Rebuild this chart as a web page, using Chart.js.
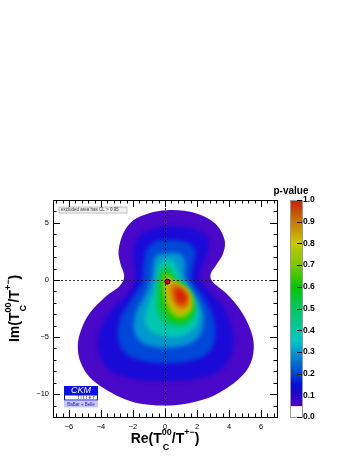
<!DOCTYPE html>
<html>
<head>
<meta charset="utf-8">
<script src="https://cdn.jsdelivr.net/npm/chart.js@4.4.1/dist/chart.umd.min.js"></script>
<style>
  html, body { margin: 0; padding: 0; background: #fff; }
  canvas { display: block; }
</style>
</head>
<body>
<canvas id="myChart" width="354" height="458"></canvas>
<script>
// tick labels
const xTicks = [-6, -4, -2, 0, 2, 4, 6];
const yTicks = [-10, -5, 0, 5];
const pTicks = [0, 0.1, 0.2, 0.3, 0.4, 0.5, 0.6, 0.7, 0.8, 0.9, 1.0];

// best fit point (Re, Im)
const bestFit = [{ x: 0.15, y: -0.15 }];

// p-value contours, [Re, Im]
const pLevels = [0.05, 0.1, 0.2, 0.3, 0.4, 0.5, 0.6, 0.7, 0.8, 0.9, 0.95];
const contour005 = [[0.1,6.1],[1.2,6.05],[2.2,5.7],[3.0,5.1],[3.45,4.4],[3.75,3.3],[3.6,2.2],[3.2,1.3],[2.85,0.5],[3.0,-0.2],[3.85,-1.2],[4.7,-2.6],[5.3,-4.2],[5.55,-5.7],[5.35,-7.3],[4.6,-8.7],[3.1,-10.1],[1.5,-10.8],[0,-11.0],[-1.5,-10.85],[-2.9,-10.2],[-4.5,-8.8],[-5.25,-7.3],[-5.45,-5.8],[-5.25,-4.4],[-4.7,-2.9],[-3.7,-1.45],[-2.85,-0.55],[-2.55,0.3],[-2.8,1.5],[-2.9,2.6],[-2.6,4.1],[-2.0,5.2],[-1.0,5.85]];
const contour010 = [[0.1,4.66],[1.67,4.52],[2.6,3.79],[2.71,2.62],[2.29,1.17],[2.19,0],[2.92,-1.17],[3.75,-2.62],[4.27,-4.66],[4.17,-6.41],[3.54,-7.8],[2.29,-8.6],[0.1,-8.85],[-2.08,-8.65],[-3.54,-7.8],[-4.17,-6.12],[-4.06,-4.37],[-3.33,-2.62],[-2.29,-1.17],[-1.88,0.29],[-1.98,1.75],[-1.88,3.2],[-1.25,4.22]];
const contour020 = [[0.1,3.5],[1.25,3.35],[1.88,2.62],[1.77,1.31],[1.67,0],[2.4,-1.46],[3.0,-3.2],[3.15,-5.0],[2.7,-6.4],[1.6,-7.1],[0.1,-7.3],[-1.4,-7.1],[-2.5,-6.4],[-2.95,-5.0],[-2.8,-3.4],[-2.19,-1.9],[-1.46,-0.29],[-1.35,1.17],[-1.15,2.62],[-0.63,3.35]];
const contour030 = [[0,2.33],[0.83,2.33],[1.25,1.6],[1.25,0.29],[1.85,-1.17],[2.35,-2.8],[2.35,-4.3],[1.8,-5.4],[0.7,-5.9],[-0.7,-5.85],[-1.6,-5.3],[-1.95,-4.2],[-1.8,-2.8],[-1.2,-1.17],[-0.83,0.29],[-0.73,1.46],[-0.52,2.19]];
const contour040 = [[-0.1,1.75],[0.52,1.6],[0.83,0.73],[1.15,-0.29],[1.85,-1.7],[2.1,-3.1],[1.8,-4.3],[1.0,-4.95],[0,-4.95],[-0.9,-4.5],[-1.25,-3.6],[-1.1,-2.4],[-0.8,-1.3],[-0.52,0],[-0.46,1.17]];
const contour050 = [[-0.1,1.17],[0.31,1.17],[0.63,0.29],[1.15,-0.5],[1.7,-1.6],[1.9,-2.8],[1.6,-3.8],[0.85,-4.15],[0.05,-3.9],[-0.45,-3.2],[-0.6,-2.0],[-0.52,-0.73],[-0.38,0.44]];
const contour060 = [[-0.04,0.82],[0.25,0.58],[0.63,-0.1],[1.3,-0.65],[1.7,-1.65],[1.75,-2.8],[1.35,-3.55],[0.7,-3.7],[0.1,-3.2],[-0.25,-2.2],[-0.3,-0.87],[-0.25,0.15]];
const contour070 = [[0,0.5],[0.45,0.05],[1.0,-0.4],[1.6,-1.25],[1.7,-2.35],[1.35,-3.15],[0.75,-3.3],[0.25,-2.7],[0,-1.6],[-0.12,-0.5]];
const contour080 = [[0.15,0.1],[0.8,-0.35],[1.4,-0.95],[1.65,-1.9],[1.45,-2.75],[0.85,-2.95],[0.35,-2.3],[0.1,-1.2]];
const contour090 = [[0.45,-0.35],[1.1,-0.7],[1.5,-1.45],[1.4,-2.3],[0.9,-2.5],[0.5,-1.85],[0.35,-1.0]];
const contour095 = [[0.7,-0.75],[1.2,-1.05],[1.35,-1.7],[1.05,-2.1],[0.7,-1.7]];

const contours = [contour005, contour010, contour020, contour030, contour040, contour050,
                  contour060, contour070, contour080, contour090, contour095];
// colour of the area inside each contour
const bandColors = ['#4a08c8', '#1a0ad8', '#0048d8', '#0098d0', '#00c8b0', '#00c864',
                    '#14c800', '#90c800', '#d0b800', '#d86800', '#d82000'];
// palette of the colour bar
const paletteStops = [[0.05,'#5000c8'],[0.1,'#2800d0'],[0.15,'#0010d8'],[0.2,'#0048d0'],[0.3,'#0098d0'],
                      [0.35,'#00c8c8'],[0.4,'#00c8a0'],[0.5,'#00c864'],[0.6,'#00c800'],[0.7,'#78c800'],
                      [0.8,'#c8c800'],[0.85,'#c8a000'],[0.9,'#c87800'],[1.0,'#c81e00']];

const FONT = '"Liberation Sans", Arial, Helvetica, sans-serif';
Chart.defaults.font.family = FONT;
Chart.defaults.color = '#000';

const minus = v => String(v).replace('-', '\u2212');

// closed smooth curve (Catmull-Rom) through pixel points
function smoothPath(ctx, pts) {
    const n = pts.length;
    ctx.beginPath();
    ctx.moveTo(pts[0][0], pts[0][1]);
    for (let i = 0; i < n; i++) {
        const p0 = pts[(i - 1 + n) % n], p1 = pts[i], p2 = pts[(i + 1) % n], p3 = pts[(i + 2) % n];
        ctx.bezierCurveTo(p1[0] + (p2[0] - p0[0]) / 6, p1[1] + (p2[1] - p0[1]) / 6,
                          p2[0] - (p3[0] - p1[0]) / 6, p2[1] - (p3[1] - p1[1]) / 6, p2[0], p2[1]);
    }
    ctx.closePath();
}

// "Re(T^00_C/T^+-)" style title, centred on 0,0 baseline
function drawRatioTitle(ctx, prefix) {
    const big = 'bold 14px ' + FONT, small = 'bold 9px ' + FONT;
    const parts = [
        { t: prefix + '(T', f: big, dy: 0 },
        { t: '00', f: small, dy: -8, sub: 'C', subDy: 7 },
        { t: '/T', f: big, dy: 0 },
        { t: '+\u2212', f: small, dy: -8 },
        { t: ')', f: big, dy: 0 }
    ];
    let total = 0;
    parts.forEach(p => {
        ctx.font = p.f;
        p.w = ctx.measureText(p.t).width;
        total += p.w;
    });
    let x = -total / 2;
    ctx.textAlign = 'left';
    ctx.textBaseline = 'alphabetic';
    ctx.fillStyle = '#000';
    parts.forEach(p => {
        ctx.font = p.f;
        ctx.fillText(p.t, x, p.dy);
        if (p.sub) ctx.fillText(p.sub, x + 1, p.subDy);
        x += p.w;
    });
}

const rootPlugin = {
    id: 'rootStyle',
    beforeDatasetsDraw(chart) {
        const { ctx, chartArea: a, scales: { x, y } } = chart;
        const toPx = p => [x.getPixelForValue(p[0]), y.getPixelForValue(p[1])];
        ctx.save();
        ctx.beginPath();
        ctx.rect(a.left, a.top, a.right - a.left, a.bottom - a.top);
        ctx.clip();
        // outermost contour with a sharp edge, inner ones softened
        smoothPath(ctx, contours[0].map(toPx));
        ctx.fillStyle = bandColors[0];
        ctx.fill();
        ctx.clip();
        ctx.filter = 'blur(2px)';
        for (let i = 1; i < contours.length; i++) {
            smoothPath(ctx, contours[i].map(toPx));
            ctx.fillStyle = bandColors[i];
            ctx.fill();
        }
        ctx.filter = 'none';
        ctx.restore();

        // dashed zero lines
        ctx.save();
        ctx.strokeStyle = '#000';
        ctx.lineWidth = 0.8;
        ctx.setLineDash([2, 2]);
        const x0 = Math.round(x.getPixelForValue(0)) + 0.5;
        const y0 = Math.round(y.getPixelForValue(0)) + 0.5;
        ctx.beginPath();
        ctx.moveTo(x0, a.top); ctx.lineTo(x0, a.bottom);
        ctx.moveTo(a.left, y0); ctx.lineTo(a.right, y0);
        ctx.stroke();
        ctx.restore();

        // "excluded area" box
        ctx.save();
        ctx.fillStyle = '#f2f2f2';
        ctx.strokeStyle = '#999';
        ctx.lineWidth = 0.6;
        ctx.fillRect(a.left + 6, a.top + 7, 68, 6);
        ctx.strokeRect(a.left + 6, a.top + 7, 68, 6);
        ctx.fillStyle = '#333';
        ctx.font = '4.5px ' + FONT;
        ctx.textBaseline = 'middle';
        ctx.fillText('excluded area has CL > 0.95', a.left + 8, a.top + 10.2);

        // CKMfitter logo
        const lx = a.left + 11, ly = a.bottom - 31;
        ctx.fillStyle = '#0a10e8';
        ctx.fillRect(lx, ly, 34, 9);
        ctx.fillStyle = '#fff';
        ctx.font = 'italic 9px ' + FONT;
        ctx.textAlign = 'center';
        ctx.fillText('CKM', lx + 17, ly + 4.8);
        ctx.strokeStyle = '#0a10e8';
        ctx.lineWidth = 1;
        ctx.strokeRect(lx + 0.5, ly + 9, 33, 5);
        ctx.fillStyle = '#0a10e8';
        ctx.font = '5px ' + FONT;
        ctx.fillText('f i t t e r', lx + 22, ly + 11.8);
        ctx.fillStyle = '#c8c8f4';
        ctx.fillRect(lx, ly + 15, 34, 6.5);
        ctx.fillStyle = '#2020d0';
        ctx.font = '4.5px ' + FONT;
        ctx.fillText('BaBar + Belle', lx + 17, ly + 18.4);
        ctx.restore();
    },
    afterDraw(chart) {
        const { ctx, chartArea: a, scales: { x, y, pv } } = chart;
        ctx.save();
        ctx.strokeStyle = '#000';
        ctx.lineWidth = 1;
        // frame
        ctx.strokeRect(Math.round(a.left) + 0.5, Math.round(a.top) + 0.5,
                       Math.round(a.right - a.left), Math.round(a.bottom - a.top));
        // ticks on all four sides, pointing inwards
        ctx.beginPath();
        const xt = (v, len) => {
            const p = Math.round(x.getPixelForValue(v)) + 0.5;
            ctx.moveTo(p, a.bottom); ctx.lineTo(p, a.bottom - len);
            ctx.moveTo(p, a.top); ctx.lineTo(p, a.top + len);
        };
        const yt = (v, len) => {
            const p = Math.round(y.getPixelForValue(v)) + 0.5;
            ctx.moveTo(a.left, p); ctx.lineTo(a.left + len, p);
            ctx.moveTo(a.right, p); ctx.lineTo(a.right - len, p);
        };
        xTicks.forEach(v => xt(v, 7));
        for (let v = -6.8; v < 6.9; v += 0.4) xt(v, 3.5);
        yTicks.forEach(v => yt(v, 7));
        for (let v = -11; v <= 6; v++) yt(v, 3.5);
        ctx.stroke();

        // colour bar
        const bx = a.right + 13, bw = 12;
        const bTop = pv.getPixelForValue(1), bBot = pv.getPixelForValue(0), b05 = pv.getPixelForValue(0.05);
        const g = ctx.createLinearGradient(0, bBot, 0, bTop);
        paletteStops.forEach(s => g.addColorStop(s[0], s[1]));
        ctx.fillStyle = '#fff';
        ctx.fillRect(bx, b05, bw, bBot - b05);
        ctx.fillStyle = g;
        ctx.fillRect(bx, bTop, bw, b05 - bTop);
        ctx.strokeStyle = '#999';
        ctx.strokeRect(bx + 0.5, bTop + 0.5, bw, bBot - bTop);
        ctx.strokeStyle = '#000';
        ctx.beginPath();
        pTicks.forEach(v => {
            const p = Math.round(pv.getPixelForValue(v)) + 0.5;
            ctx.moveTo(bx + bw, p); ctx.lineTo(bx + bw - 5, p);
        });
        ctx.stroke();
        ctx.fillStyle = '#000';
        ctx.font = 'bold 10px ' + FONT;
        ctx.textAlign = 'center';
        ctx.fillText('p-value', bx + 1, a.top - 6);

        // axis titles
        ctx.translate((a.left + a.right) / 2, 443);
        drawRatioTitle(ctx, 'Re');
        ctx.restore();
        ctx.save();
        ctx.translate(18.5, (a.top + a.bottom) / 2);
        ctx.rotate(-Math.PI / 2);
        drawRatioTitle(ctx, 'Im');
        ctx.restore();
    }
};

const ctx = document.getElementById('myChart').getContext('2d');
const myChart = new Chart(ctx, {
    type: 'scatter',
    data: {
        datasets: [{
            data: bestFit,
            backgroundColor: '#e00000',
            borderColor: '#000',
            borderWidth: 1,
            pointRadius: 2.5
        }]
    },
    options: {
        responsive: false,
        animation: false,
        devicePixelRatio: 1,
        layout: { padding: { top: 200, left: 0, right: 0, bottom: 0 } },
        plugins: { legend: { display: false }, tooltip: { enabled: false } },
        scales: {
            x: {
                type: 'linear', min: -7, max: 7,
                afterFit: s => { s.height = 41; },
                afterBuildTicks: s => { s.ticks = xTicks.map(v => ({ value: v })); },
                grid: { display: false, drawTicks: false },
                border: { display: false },
                ticks: { padding: 5, font: { size: 7.5 }, callback: v => minus(v) }
            },
            y: {
                type: 'linear', min: -12, max: 7,
                afterFit: s => { s.width = 53; },
                afterBuildTicks: s => { s.ticks = yTicks.map(v => ({ value: v })); },
                grid: { display: false, drawTicks: false },
                border: { display: false },
                ticks: { padding: 4, font: { size: 7.5 }, callback: v => minus(v) }
            },
            pv: {
                type: 'linear', position: 'right', min: 0, max: 1,
                afterFit: s => { s.width = 77; },
                afterBuildTicks: s => { s.ticks = pTicks.map(v => ({ value: v })); },
                grid: { display: false, drawTicks: false },
                border: { display: false },
                ticks: { padding: 26, font: { size: 8.5, weight: 'bold' }, callback: v => v.toFixed(1) }
            }
        }
    },
    plugins: [rootPlugin]
});
</script>
</body>
</html>
